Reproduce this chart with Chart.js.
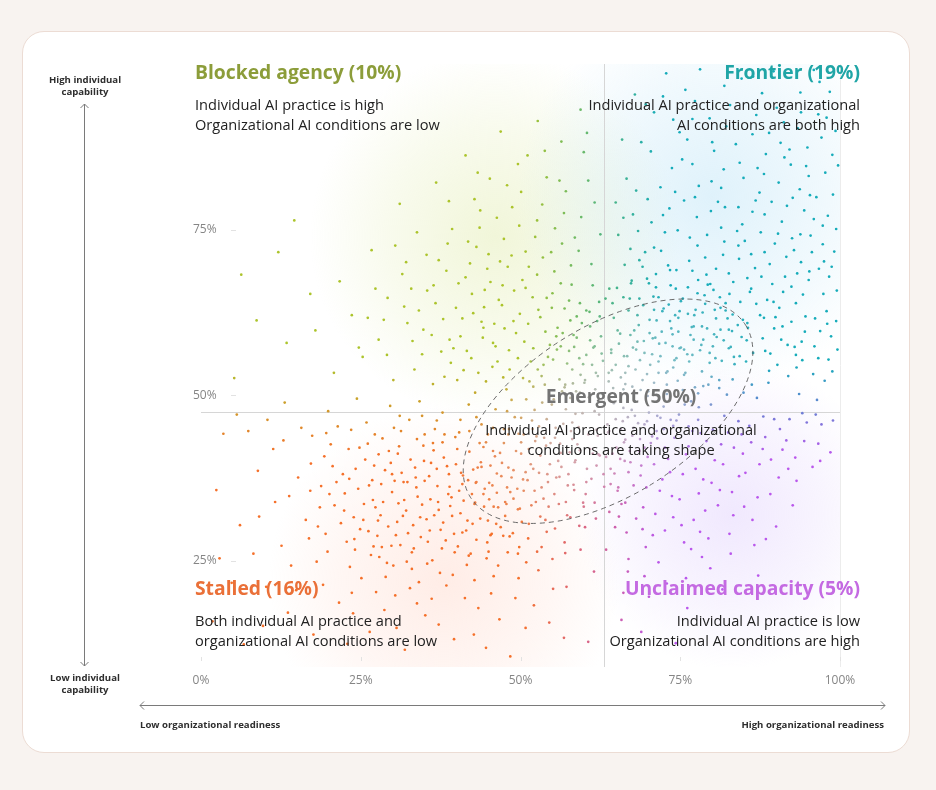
<!DOCTYPE html>
<html>
<head>
<meta charset="utf-8">
<script src="https://cdn.jsdelivr.net/npm/chart.js@4.4.1/dist/chart.umd.min.js"></script>
<style>
  body { margin: 0; background: #f8f3f0; font-family: 'Open Sans', sans-serif; }
  .card { position: absolute; left: 22px; top: 31px; width: 886px; height: 720px; background: #fff; border: 1px solid #ecdcd4; border-radius: 22px; }
  #chart { position: absolute; left: 0; top: 0; }
  .t { position: absolute; white-space: nowrap; }
  .title { font-size: 19.3px; font-weight: 700; line-height: 22px; }
  .body { font-size: 14.6px; color: #222; line-height: 20px; }
  .ax { font-size: 9.6px; font-weight: 700; color: #2e2e2e; line-height: 12px; text-align: center; }
  svg { position: absolute; left: 0; top: 0; }
</style>
</head>
<body>
<div class="card"></div>
<canvas id="chart" width="936" height="790"></canvas>
<svg width="936" height="790">
  <g stroke="#7a7a7a" stroke-width="1" fill="none">
    <line x1="84.5" y1="104" x2="84.5" y2="666"/>
    <polyline points="80.5,108 84.5,104 88.5,108"/>
    <polyline points="80.5,662 84.5,666 88.5,662"/>
    <line x1="140" y1="705.5" x2="885" y2="705.5"/>
    <polyline points="144,701.5 140,705.5 144,709.5"/>
    <polyline points="881,701.5 885,705.5 881,709.5"/>
  </g>
</svg>

<div class="t ax" style="left:35px;top:74px;width:100px;">High individual<br>capability</div>
<div class="t ax" style="left:35px;top:672px;width:100px;">Low individual<br>capability</div>
<div class="t ax" style="left:140px;top:719px;text-align:left;">Low organizational readiness</div>
<div class="t ax" style="right:52px;top:719px;text-align:right;">High organizational readiness</div>

<div class="t title" style="left:195px;top:61px;color:#8c9d3a;">Blocked agency (10%)</div>
<div class="t body" style="left:195px;top:94px;">Individual AI practice is high<br>Organizational AI conditions are low</div>

<div class="t title" style="right:76px;top:61px;color:#1fa5a6;text-align:right;">Frontier (19%)</div>
<div class="t body" style="right:76px;top:94px;text-align:right;">Individual AI practice and organizational<br>AI conditions are both high</div>

<div class="t title" style="left:471px;top:385px;width:300px;color:#747474;text-align:center;">Emergent (50%)</div>
<div class="t body" style="left:471px;top:419px;width:300px;text-align:center;">Individual AI practice and organizational<br>conditions are taking shape</div>

<div class="t title" style="left:195px;top:577px;color:#ea7038;">Stalled (16%)</div>
<div class="t body" style="left:195px;top:610px;">Both individual AI practice and<br>organizational AI conditions are low</div>

<div class="t title" style="right:76px;top:577px;color:#c46ae2;text-align:right;">Unclaimed capacity (5%)</div>
<div class="t body" style="right:76px;top:610px;text-align:right;">Individual AI practice is low<br>Organizational AI conditions are high</div>

<script>
// axis ticks (percent)
var xTicks = [0, 25, 50, 75, 100];
var yTicks = [25, 50, 75];

// segment thresholds: organizational readiness (x) and individual capability (y)
var orgThreshold = 63;
var indThreshold = 47.5;

// emergent zone: centre, radii (in % units) and tilt
var emergentZone = { x: 63.7, y: 47.6, rx: 25.4, ry: 13.3, tilt: 32 };

// respondents, [organizational readiness %, individual capability %]
var stalledPts = [[3.5,44.2],[6.1,30.4],[4.8,21.7],[8.9,38.6],[9.7,15.2],[11.3,41.9],[12.6,27.3],[13.8,34.8],[14.9,20.6],[15.7,45.1],[16.4,31.2],[17.2,39.7],[18.1,24.9],[18.8,36.3],[19.5,29.1],[20.3,42.6],[20.9,33.4],[21.6,18.7],[22.2,38.1],[22.8,27.9],[23.5,44.8],[23.9,31.6],[24.6,35.9],[25.1,22.4],[25.7,40.3],[26.2,29.5],[26.8,37.2],[27.3,33.1],[27.9,25.6],[28.4,43.5],[28.8,38.7],[29.3,30.2],[29.9,35.4],[30.4,19.8],[30.8,41.2],[31.2,27.4],[31.7,36.9],[32.1,32.6],[32.6,46.3],[33.0,23.8],[33.5,39.1],[33.9,34.7],[34.4,28.6],[34.8,42.4],[35.3,31.3],[35.7,37.8],[36.2,25.1],[36.6,44.9],[37.1,33.9],[37.5,29.7],[38.0,40.6],[38.4,21.3],[38.9,36.2],[39.3,31.8],[39.8,43.7],[40.2,27.2],[40.7,38.3],[41.1,34.1],[41.6,24.4],[42.0,41.5],[42.5,30.6],[43.0,36.8],[43.4,17.9],[43.9,45.6],[44.3,33.2],[44.8,27.8],[45.3,39.4],[45.8,22.7],[46.3,35.3],[46.9,30.1],[47.4,42.8],[48.0,26.3],[48.6,37.6],[49.2,19.4],[49.9,32.9],[50.5,44.1],[51.2,28.4],[52.0,38.9],[52.8,23.6],[53.6,34.4],[54.5,15.7],[55.4,29.9],[56.3,41.3],[57.2,21.1],[58.3,36.5],[59.4,26.7],[60.6,12.8],[61.8,31.4],[26.4,14.3],[31.9,11.6],[35.1,16.8],[39.6,13.2],[44.6,11.9],[50.8,14.9],[28.7,17.6],[22.9,12.5],[17.6,13.9],[8.2,26.1],[2.4,35.7],[5.6,47.1],[10.4,46.3],[13.1,48.9],[19.9,47.6],[24.4,49.5],[29.6,48.4],[34.2,49.1],[37.8,47.4],[41.9,48.6],[46.1,47.9],[26.9,34.2],[28.1,31.9],[29.7,39.8],[30.9,33.7],[32.4,29.2],[33.7,36.1],[34.9,40.1],[35.9,34.3],[36.9,38.9],[37.9,30.8],[38.7,35.1],[39.9,39.6],[40.9,29.3],[41.8,37.2],[42.9,33.8],[43.8,39.9],[44.9,31.1],[31.4,38.3],[27.6,28.8],[33.3,26.9],[36.4,41.7],[40.4,35.6],[42.2,26.1],[45.6,36.4],[47.8,33.6],[30.1,24.3],[24.1,26.7],[21.2,36.9],[19.3,40.8],[23.1,41.9],
  [18.6,33.1],[19.8,26.4],[20.6,39.3],[21.9,30.7],[22.5,35.2],[23.3,24.1],[24.2,38.9],[24.9,29.8],[25.5,33.6],[26.1,42.7],[26.6,25.9],[27.1,39.4],[27.7,31.1],[28.2,36.6],[28.9,22.6],[29.4,41.6],[29.8,27.3],[30.3,37.1],[30.7,30.9],[31.3,44.6],[31.8,34.2],[32.2,24.9],[32.8,40.3],[33.2,30.4],[33.6,37.6],[34.1,21.8],[34.6,33.5],[35.0,44.1],[35.5,27.9],[36.0,39.8],[36.5,31.9],[37.0,36.3],[37.4,23.2],[37.8,42.9],[38.3,28.1],[38.8,38.1],[39.2,34.6],[39.7,26.3],[40.1,41.9],[40.6,32.2],[41.0,37.9],[41.5,29.6],[42.0,44.6],[42.4,35.1],[42.8,22.1],[43.3,39.1],[43.7,31.4],[44.2,42.2],[44.7,25.4],[45.1,34.3],[45.5,29.1],[46.0,40.8],[46.5,24.3],[47.0,37.8],[47.6,31.8],[48.2,44.9],[48.8,29.2],[49.5,35.9],[50.1,41.2],[50.9,24.8],[51.7,33.4],[52.5,43.8],[53.3,27.1],[54.2,38.1],[55.1,20.8],[56.0,33.6],[57.0,26.2],[58.1,43.4],[59.2,30.3],[60.3,36.9],[61.5,23.4],[62.4,40.9],[16.9,28.4],[15.2,37.6],[14.1,24.3],[12.9,43.2],[11.6,33.9],[10.2,21.1],[7.4,44.6],[9.1,31.7],[13.6,17.2],[19.1,21.4],[23.8,17.1],[27.4,20.3],[33.8,18.6],[37.2,15.4],[41.3,19.4],[46.7,16.2],[52.1,18.3],[56.8,13.4],[30.6,14.9],[42.7,13.9],[48.4,10.6],[25.9,45.9],[31.1,46.9],[36.9,46.2],[43.1,46.7],[21.4,45.3],[17.4,43.9],[2.9,25.4],[1.8,15.9],[6.7,12.4],
  [22.4,32.6],[23.2,37.4],[24.0,28.3],[24.8,42.1],[25.4,31.2],[26.3,36.4],[27.0,27.2],[27.8,41.1],[28.5,33.9],[29.1,24.7],[29.9,38.1],[30.5,28.9],[31.0,42.3],[31.6,31.8],[32.3,36.9],[33.0,26.3],[33.8,43.4],[34.3,31.6],[35.0,37.1],[35.8,29.6],[36.3,42.8],[37.2,32.7],[37.7,26.9],[38.5,39.3],[39.0,33.3],[39.6,29.1],[40.4,44.4],[40.9,36.6],[41.7,31.1],[42.6,38.8],[43.1,28.2],[43.6,42.8],[44.4,35.9],[45.0,26.4],[45.7,41.6],[46.5,33.1],[47.3,28.8],[48.1,39.1],[48.9,34.4],[49.6,26.1],[50.4,37.3],[51.3,30.6],[52.2,35.6],[53.1,31.7],[54.0,42.4],[55.0,25.3],[56.1,37.7],[57.3,31.9],[58.6,40.2],[59.8,33.8],[27.2,44.1],[34.6,46.9],[40.6,46.3],[20.1,35.1],[18.3,30.2],[17.1,35.6],[19.6,44.3],[23.6,20.2],[32.7,20.9],[39.4,22.9],[45.4,20.1],[49.7,22.4],[36.1,19.3],[28.3,27.1],[35.4,24.6],[41.9,25.8],[38.1,44.1],[44.9,44.1],[50.1,46.6],[30.2,45.1]];

var blockedPts = [[5.2,52.6],[8.7,61.3],[13.4,57.9],[12.1,71.6],[14.6,76.4],[17.9,59.8],[20.8,53.4],[21.7,67.2],[23.6,62.1],[25.3,55.8],[26.7,71.9],[27.8,58.4],[29.2,64.7],[30.1,52.3],[31.5,68.3],[32.3,60.9],[33.8,74.6],[34.6,56.2],[35.4,65.8],[36.3,51.7],[37.2,70.4],[37.9,61.5],[38.8,79.3],[39.5,57.1],[40.3,66.9],[41.1,53.8],[41.8,73.2],[42.6,62.4],[43.3,83.6],[44.1,58.7],[44.8,69.1],[45.6,54.3],[46.3,76.8],[47.1,63.6],[47.8,50.9],[48.6,71.1],[49.3,59.4],[50.1,80.7],[50.8,66.2],[51.6,55.1],[52.3,73.9],[53.1,61.8],[53.8,86.9],[54.6,57.6],[55.3,68.7],[56.1,52.4],[56.8,77.5],[57.6,64.3],[58.3,59.1],[59.1,71.8],[59.8,54.7],[60.6,82.4],[61.3,66.6],[62.0,61.2],[46.9,89.8],[52.7,91.4],[41.4,86.2],[36.8,82.1],[31.1,78.9],[56.4,88.3],[59.4,93.1],[49.6,84.9],[43.7,77.9],[38.4,68.8],[34.1,62.8],[39.1,54.9],[44.4,65.9],[48.2,56.8],[51.9,64.8],[54.9,63.2],[57.9,69.6],[53.4,78.8],[47.4,73.6],[42.1,69.9],[45.9,60.8],[50.4,52.6],[55.7,56.9],[58.7,50.6],[60.9,58.3],[36.1,59.1],[32.9,66.1],[28.6,61.4],[24.7,57.2],[33.4,53.9],[17.1,65.3],[6.3,68.2],
  [38.1,52.8],[39.9,63.2],[40.6,58.9],[41.4,67.8],[42.3,55.6],[43.1,72.4],[43.9,61.1],[44.6,52.1],[45.3,67.1],[46.1,57.4],[46.8,70.2],[47.5,60.1],[48.3,53.9],[49.0,65.8],[49.8,75.6],[50.6,58.1],[51.3,69.4],[52.0,51.3],[52.8,62.9],[53.5,70.8],[54.3,55.8],[55.0,65.4],[55.8,60.2],[56.5,72.9],[57.3,54.8],[58.0,66.7],[58.8,61.9],[59.5,76.9],[60.3,56.1],[61.1,69.8],[61.8,53.4],[62.5,74.3],[35.3,71.2],[36.7,63.9],[33.1,58.2],[31.8,63.4],[30.4,72.6],[29.1,56.1],[27.3,66.1],[26.1,61.7],[39.3,75.1],[42.8,79.6],[45.2,82.7],[48.7,78.4],[51.1,86.2],[54.1,82.9],[57.1,80.8],[59.9,86.7],[61.6,79.1],[37.6,56.6],[44.3,63.3],[49.9,62.3],[53.9,59.6],[56.9,63.1],[47.2,66.6],[42.9,50.4],[50.8,71.7],[55.4,75.2],[58.4,57.3],[46.4,55.1],
  [38.9,58.4],[40.1,52.3],[40.9,61.6],[41.6,56.7],[42.4,65.3],[43.4,53.4],[44.2,60.2],[45.0,71.3],[45.7,57.9],[46.6,64.4],[47.3,52.7],[48.0,69.4],[48.9,61.2],[49.6,55.6],[50.3,67.4],[51.2,60.8],[52.0,57.1],[52.6,68.2],[53.3,52.9],[54.1,64.7],[54.8,71.6],[55.6,58.9],[56.3,66.9],[57.0,51.6],[57.8,61.3],[58.5,73.8],[59.3,63.9],[60.0,51.9],[60.8,62.6],[61.6,57.4],[62.3,64.1],[36.4,66.6],[34.8,59.9],[32.1,70.1],[38.6,72.9],[43.6,75.3],[47.9,81.7],[52.6,76.4],[56.1,82.4],[60.4,89.6]];

var frontierPts = [[63.8,52.1],[64.6,61.7],[65.3,74.2],[65.9,88.6],[66.7,55.9],[67.4,67.3],[68.1,80.9],[68.8,50.8],[69.5,71.6],[70.2,59.4],[70.9,92.7],[71.6,64.8],[72.3,77.2],[73.0,53.6],[73.7,84.3],[74.4,68.9],[75.1,57.2],[75.8,96.1],[76.5,73.8],[77.2,62.1],[77.9,81.6],[78.6,51.4],[79.3,66.7],[80.0,88.2],[80.7,58.8],[81.4,75.3],[82.1,63.9],[82.8,93.8],[83.5,54.7],[84.2,70.6],[84.9,82.8],[85.6,60.2],[86.3,77.7],[87.0,49.6],[87.7,67.9],[88.4,86.4],[89.1,56.3],[89.8,72.9],[90.5,63.2],[91.2,91.2],[91.9,52.9],[92.6,79.8],[93.3,68.4],[94.0,58.1],[94.7,84.6],[95.4,74.1],[96.1,61.6],[96.8,97.3],[97.5,70.2],[98.2,55.4],[98.9,80.3],[99.5,65.8],[67.9,95.4],[72.8,98.6],[78.1,99.2],[84.6,97.8],[89.6,98.9],[93.8,95.7],[74.9,89.7],[86.9,92.3],[81.8,84.1],[70.4,86.8],[92.1,87.1],[97.1,88.9],[76.2,66.3],[78.9,70.8],[80.4,62.9],[82.6,68.4],[84.4,64.1],[86.1,71.3],[88.1,61.7],[89.4,66.8],[91.6,70.9],[93.1,63.9],[95.1,67.4],[97.9,62.7],[79.6,56.4],[83.1,59.7],[85.3,55.1],[87.9,58.6],[90.2,54.6],[92.9,57.3],[95.8,53.2],[98.6,58.9],[81.1,52.3],[84.9,50.4],[88.8,51.9],[93.6,50.2],[96.4,49.3],[77.6,76.9],[80.9,79.2],[83.9,74.8],[87.4,80.6],[90.9,76.2],[94.4,77.9],[97.3,75.6],[99.1,71.7],[75.6,79.4],[73.4,61.2],[71.2,68.3],[69.2,63.6],[68.4,74.8],[66.3,69.7],
  [64.2,56.4],[65.1,66.2],[66.1,50.9],[66.9,62.8],[67.6,77.3],[68.3,58.1],[69.1,69.4],[69.8,53.2],[70.5,76.1],[71.3,61.3],[72.0,71.8],[72.7,57.9],[73.5,66.6],[74.2,80.7],[74.9,62.7],[75.6,53.1],[76.4,70.3],[77.1,58.4],[77.8,67.4],[78.5,62.5],[79.2,74.2],[79.9,52.8],[80.6,69.1],[81.3,59.9],[82.0,78.4],[82.7,65.3],[83.4,55.8],[84.1,72.6],[84.8,61.4],[85.5,67.7],[86.2,51.6],[86.9,63.8],[87.6,74.6],[88.3,56.7],[89.0,69.8],[89.7,60.1],[90.4,82.1],[91.1,65.6],[91.8,57.6],[92.5,73.7],[93.2,54.2],[93.9,70.1],[94.6,61.9],[95.3,80.2],[96.0,57.4],[96.7,69.1],[97.4,65.3],[98.1,77.1],[98.8,53.6],[99.4,61.2],[99.7,84.7],[75.3,85.6],[79.6,91.8],[83.7,87.9],[87.1,84.3],[90.1,93.4],[93.4,90.3],[96.6,92.4],[98.4,95.8],[71.9,81.4],[68.9,88.2],[66.6,82.7],[77.3,94.4],[81.9,96.7],[86.4,98.1],[95.9,99.1],[64.9,79.1],[69.6,93.9],[73.9,91.6],[88.9,89.6],[92.3,84.8],[94.9,87.4],[97.7,83.6],[99.3,89.9],[85.9,65.6],[81.7,71.2],[78.3,57.6],[76.8,60.3],[90.8,58.4],[92.4,61.1],[94.2,65.2],[96.9,59.7],[88.6,64.4],[83.2,62.2],[80.2,65.9],[86.7,69.2],[91.4,67.9],[95.6,71.6],[98.3,67.9],[84.1,78.4],[88.2,77.3],[93.7,81.1],[79.9,82.3],[76.9,84.9],[72.6,74.6],[70.8,64.9],[67.2,72.1],[65.6,59.3],[74.1,55.3],[82.3,50.1],
  [66.4,53.4],[67.1,64.6],[67.8,59.8],[68.6,70.4],[69.4,56.4],[70.1,66.9],[70.9,72.3],[71.6,55.1],[72.4,63.1],[73.1,69.6],[73.8,59.2],[74.6,74.9],[75.4,64.6],[76.1,56.2],[76.9,68.8],[77.7,72.6],[78.4,60.4],[79.1,68.2],[79.8,77.8],[80.5,55.6],[81.2,64.8],[81.9,73.2],[82.6,57.1],[83.3,67.1],[84.0,60.6],[84.7,75.8],[85.4,58.3],[86.1,66.1],[86.8,79.4],[87.5,62.1],[88.2,71.6],[88.9,53.7],[89.6,64.1],[90.3,74.4],[91.0,60.4],[91.7,78.6],[92.4,66.4],[93.1,56.1],[93.8,74.3],[94.5,59.6],[95.2,68.7],[95.9,76.6],[96.6,55.6],[97.3,72.8],[98.0,60.8],[98.7,69.4],[99.4,75.1],[99.6,56.9],[71.1,58.7],[74.7,61.7],[78.8,65.1],[82.4,61.6],[86.4,56.4],[89.9,61.8],[94.1,55.3],[97.6,52.2],[85.1,73.3],[89.3,79.2],[92.8,71.9],[96.3,79.9],[81.4,81.3],[77.3,79.9],[73.3,78.2],[69.9,79.6],[66.1,76.8],[88.1,83.4],[91.3,85.9],[95.1,83.1],[98.8,86.3],[84.3,85.1],[80.3,86.9],[76.1,88.6],[86.3,89.4],[90.7,88.1],[93.9,92.7],[97.9,91.9],[72.3,95.1],[76.9,91.7],[82.2,90.6],[87.8,95.6]];

var unclaimedPts = [[63.9,44.6],[64.7,38.2],[65.4,31.7],[66.2,42.9],[66.9,25.3],[67.7,36.4],[68.4,45.8],[69.2,33.1],[69.9,40.7],[70.7,28.9],[71.4,43.5],[72.2,37.3],[72.9,21.6],[73.7,34.8],[74.4,46.2],[75.2,30.4],[75.9,41.1],[76.7,26.8],[77.4,38.9],[78.2,44.3],[78.9,32.6],[79.7,23.9],[80.4,40.2],[81.2,35.7],[81.9,46.9],[82.7,29.1],[83.4,42.1],[84.2,37.8],[85.0,33.2],[85.8,45.4],[86.6,27.4],[87.4,39.6],[88.3,43.7],[89.1,35.1],[90.0,30.2],[91.0,41.8],[92.1,46.4],[93.2,37.1],[94.4,43.1],[95.7,39.2],[97.1,45.6],[98.5,41.4],[70.1,19.6],[76.1,17.9],[81.6,20.7],[87.2,22.8],[66.1,20.2],[68.9,14.3],[74.3,12.6],[63.4,26.7],[65.8,16.1],[71.8,35.6],[77.9,35.2],[67.2,39.9],[73.1,40.4],[79.1,43.1],[84.8,41.2],[90.6,44.9],[96.2,47.1],
  [64.4,41.2],[65.2,35.6],[66.0,46.1],[66.6,29.3],[67.5,43.9],[68.1,31.4],[68.8,37.9],[69.6,27.1],[70.4,42.8],[71.1,32.1],[71.9,46.6],[72.6,29.6],[73.4,38.4],[74.1,43.6],[74.9,34.3],[75.6,27.8],[76.3,42.3],[77.1,31.2],[77.8,46.3],[78.6,37.3],[79.4,28.4],[80.1,44.8],[80.9,33.4],[81.7,39.6],[82.5,44.4],[83.3,31.9],[84.1,46.1],[85.2,38.3],[86.1,42.9],[87.1,34.6],[88.0,46.8],[89.2,40.3],[90.4,37.6],[91.6,43.2],[93.0,40.6],[94.8,45.9],[96.6,42.7],[98.9,46.2],[69.4,22.7],[78.4,25.6],
  [64.1,36.6],[65.6,40.4],[66.4,33.8],[67.9,46.9],[68.6,41.6],[69.7,36.1],[70.9,39.6],[72.4,44.9],[73.9,31.6],[75.4,38.1],[76.9,44.6],[78.1,29.4],[79.9,36.8],[81.4,42.6],[83.1,35.4],[84.6,44.1],[86.3,31.2],[87.9,41.9],[89.7,46.4],[91.9,38.9],[94.1,47.3],[96.9,40.1],[66.8,23.4],[71.6,24.8],[75.9,22.4],[82.9,26.1],[88.4,28.3],[92.6,33.4],[64.8,30.1],[69.1,29.8]];

var emergentPts = [[45.1,36.8],[46.8,41.3],[47.6,33.9],[48.9,38.7],[49.7,44.2],[50.5,35.6],[51.3,41.9],[52.2,47.8],[52.9,38.3],[53.7,43.6],[54.4,33.2],[55.2,49.4],[55.9,40.1],[56.7,45.7],[57.4,36.4],[58.2,51.8],[58.9,42.6],[59.7,47.3],[60.4,38.9],[61.2,54.6],[61.9,44.8],[62.7,50.2],[63.4,40.7],[64.2,56.9],[64.9,46.4],[65.7,52.7],[66.4,43.3],[67.2,59.1],[67.9,49.1],[68.7,55.3],[69.4,45.6],[70.2,61.4],[70.9,51.9],[71.7,57.8],[72.4,48.3],[73.2,63.7],[73.9,54.2],[74.7,59.6],[75.4,50.8],[76.2,62.3],[76.9,56.1],[77.7,65.4],[78.4,53.6],[79.2,60.1],[80.1,57.4],[81.3,63.2],[82.6,59.9],[50.2,30.9],[54.1,29.4],[57.8,31.6],[61.6,33.8],[65.3,36.1],[68.9,39.4],[72.6,42.1],[76.3,45.3],[79.8,48.6],[83.2,52.4],[44.6,42.9],[47.9,47.6],[51.4,52.1],[55.1,55.4],[58.8,58.7],[62.4,61.9],[66.1,64.8],[69.8,67.6],[73.4,68.9],[53.3,36.1],[56.4,39.2],[59.3,41.7],[62.1,43.9],[64.6,48.8],[67.5,51.3],[70.3,54.6],[73.8,57.4],[60.7,49.7],[63.8,53.4],[57.1,47.9],[54.7,42.8],[66.8,46.7],[69.9,49.9],[71.3,44.6],[74.8,47.1],[77.3,51.2],[61.4,57.2],[58.1,53.9],[65.2,59.8],[68.3,62.1],[48.3,28.7],[52.6,26.4],[56.9,27.8],[60.1,30.1],[63.9,32.4],[46.2,30.6],[43.9,39.2],[50.9,49.4],[53.8,51.6],[57.6,56.7],[60.9,60.4],[64.4,63.9],
  [46.3,38.2],[47.9,36.1],[49.3,41.6],[50.8,38.4],[51.9,44.9],[53.1,40.9],[54.1,46.4],[55.6,37.6],[56.2,42.7],[57.8,49.6],[58.5,39.9],[59.1,45.2],[60.1,52.3],[61.3,41.2],[62.3,47.1],[62.9,55.2],[63.7,44.4],[64.5,51.1],[65.4,57.8],[66.1,48.1],[66.9,54.4],[67.7,45.1],[68.5,60.6],[69.1,52.3],[70.1,47.4],[70.7,58.6],[71.6,53.4],[72.2,62.7],[72.9,50.2],[73.6,60.1],[74.4,55.6],[75.1,64.2],[75.8,53.4],[76.6,59.1],[77.4,62.9],[78.1,56.8],[78.9,63.8],[79.6,54.9],[80.6,61.6],[81.8,58.3],[49.6,32.8],[52.4,33.9],[55.3,35.1],[58.4,35.7],[61.1,37.4],[64.1,38.9],[67.1,41.6],[70.6,43.8],[73.9,45.4],[77.9,48.2],[81.1,51.1],[84.3,55.9],[45.7,45.1],[48.6,49.3],[52.7,53.9],[56.3,57.4],[59.6,60.9],[63.3,64.6],[67.3,66.9],[71.2,66.3],[53.9,31.2],[59.9,33.2],[65.8,33.6],[56.9,51.2],[59.2,55.6],[62.6,58.9],[48.1,44.1],[51.8,46.2],[54.9,48.6],[57.9,44.6],[61.7,50.9],[64.9,54.6],[68.1,56.9],[71.9,55.9],[74.6,52.2],[76.7,49.1],[69.4,42.1],[66.3,40.1],[63.1,36.2],[60.6,44.1],
  [44.2,35.1],[45.8,33.2],[47.1,39.8],[48.4,35.4],[49.1,46.7],[50.1,42.9],[51.1,37.2],[52.3,43.1],[53.4,48.9],[54.6,39.6],[55.5,45.1],[56.5,50.6],[57.1,33.9],[57.7,41.4],[58.6,47.2],[59.4,53.1],[60.2,35.1],[60.9,41.9],[61.6,47.6],[62.1,52.9],[63.0,38.1],[63.6,45.6],[64.3,53.8],[65.0,42.1],[65.6,49.2],[66.2,55.9],[66.9,38.4],[67.4,47.8],[68.0,53.9],[68.7,43.4],[69.3,58.2],[70.0,50.6],[70.6,56.2],[71.4,46.9],[72.1,59.6],[72.8,53.4],[73.5,46.3],[74.2,62.1],[74.9,57.1],[75.7,48.6],[76.4,55.1],[77.1,60.4],[77.8,50.3],[78.6,58.4],[79.4,51.6],[80.3,59.2],[81.5,55.2],[82.9,57.3],[84.6,58.8],[85.5,60.9],[43.1,36.9],[42.8,33.6],[45.3,28.9],[49.8,27.1],[47.4,44.9],[53.6,54.6],[56.6,59.4],[60.3,62.8],[63.9,66.1],[68.6,64.6],[74.3,66.1],[79.7,66.8],[82.1,62.8],[58.1,45.9],[61.9,39.4],[55.4,43.6],[52.9,45.3],[65.7,44.9],[69.8,46.1],[72.9,51.6],[75.6,56.9],[67.6,57.2],[62.7,56.3],[59.3,50.4],[70.9,62.9],[51.6,39.6],[54.3,36.9],[57.5,38.1],[62.2,41.1],[66.4,51.7]];

// colour field: corners of the map, lightened inside the emergent zone
var cLowLow = [245, 112, 42];
var cLowHigh = [172, 196, 44];
var cHighHigh = [22, 172, 186];
var cHighLow = [186, 88, 236];
var cMid = [206, 202, 206];

function mix(a, b, t) {
  return [a[0] + (b[0] - a[0]) * t, a[1] + (b[1] - a[1]) * t, a[2] + (b[2] - a[2]) * t];
}
function clamp01(v) { return Math.max(0, Math.min(1, v)); }

function colourAt(x, y) {
  var tx = clamp01((x - 50) / 22);
  var ty = clamp01((y - 41) / 14);
  var c = mix(mix(cLowLow, cHighLow, tx), mix(cLowHigh, cHighHigh, tx), ty);
  var a = emergentZone.tilt * Math.PI / 180;
  var dx = x - emergentZone.x, dy = y - emergentZone.y;
  var u = dx * Math.cos(a) + dy * Math.sin(a);
  var v = -dx * Math.sin(a) + dy * Math.cos(a);
  var d = Math.sqrt(Math.pow(u / emergentZone.rx, 2) + Math.pow(v / emergentZone.ry, 2));
  var k = clamp01((1.1 - d) * 1.3) * 0.68;
  c = mix(c, cMid, k);
  return 'rgb(' + Math.round(c[0]) + ',' + Math.round(c[1]) + ',' + Math.round(c[2]) + ')';
}

function toPoints(arr) {
  return arr.map(function (p) { return { x: p[0], y: p[1] }; });
}

function makeSet(label, arr) {
  return {
    label: label,
    data: toPoints(arr),
    pointRadius: 1.35,
    pointBorderWidth: 0,
    pointHoverRadius: 1.35,
    backgroundColor: function (c) { return c.raw ? colourAt(c.raw.x, c.raw.y) : '#999'; }
  };
}

var glows = [
  { x: 46, y: 74, r: 185, color: '220,232,160', a: 0.4 },
  { x: 80, y: 80, r: 195, color: '175,222,245', a: 0.4 },
  { x: 38, y: 22, r: 175, color: '255,214,200', a: 0.45 },
  { x: 83, y: 32, r: 155, color: '218,198,252', a: 0.4 }
];

var mapDecor = {
  id: 'mapDecor',
  beforeDatasetsDraw: function (chart) {
    var ctx = chart.ctx, area = chart.chartArea;
    var xs = chart.scales.x, ys = chart.scales.y;
    ctx.save();
    ctx.beginPath();
    ctx.rect(area.left, area.top, area.right - area.left, area.bottom - area.top);
    ctx.clip();
    glows.forEach(function (g) {
      var px = xs.getPixelForValue(g.x), py = ys.getPixelForValue(g.y);
      var grad = ctx.createRadialGradient(px, py, 0, px, py, g.r);
      grad.addColorStop(0, 'rgba(' + g.color + ',' + g.a + ')');
      grad.addColorStop(0.6, 'rgba(' + g.color + ',' + (g.a * 0.45) + ')');
      grad.addColorStop(1, 'rgba(' + g.color + ',0)');
      ctx.fillStyle = grad;
      ctx.fillRect(px - g.r, py - g.r, g.r * 2, g.r * 2);
    });
    ctx.restore();

    // quadrant dividers and right edge
    ctx.save();
    ctx.lineWidth = 1;
    ctx.strokeStyle = '#d6d6d6';
    var vx = Math.round(xs.getPixelForValue(orgThreshold)) + 0.5;
    var hy = Math.round(ys.getPixelForValue(indThreshold)) + 0.5;
    ctx.beginPath();
    ctx.moveTo(vx, area.top); ctx.lineTo(vx, area.bottom);
    ctx.moveTo(area.left, hy); ctx.lineTo(area.right, hy);
    ctx.stroke();
    ctx.strokeStyle = '#ececec';
    var ex = Math.round(xs.getPixelForValue(100)) + 0.5;
    ctx.beginPath();
    ctx.moveTo(ex, area.top); ctx.lineTo(ex, area.bottom);
    ctx.stroke();
    // small tick marks
    ctx.strokeStyle = '#e2e2e2';
    ctx.beginPath();
    xTicks.forEach(function (t) {
      var px = Math.round(xs.getPixelForValue(t)) + 0.5;
      ctx.moveTo(px, area.bottom - 10); ctx.lineTo(px, area.bottom - 6);
    });
    yTicks.forEach(function (t) {
      var py = Math.round(ys.getPixelForValue(t)) + 0.5;
      ctx.moveTo(area.left + 30, py); ctx.lineTo(area.left + 35, py);
    });
    ctx.stroke();
    ctx.restore();
  },
  afterDatasetsDraw: function (chart) {
    var ctx = chart.ctx;
    var xs = chart.scales.x, ys = chart.scales.y;
    var unit = Math.abs(xs.getPixelForValue(1) - xs.getPixelForValue(0));
    ctx.save();
    ctx.strokeStyle = '#5a5a5a';
    ctx.lineWidth = 0.9;
    ctx.setLineDash([5, 4]);
    ctx.beginPath();
    ctx.ellipse(xs.getPixelForValue(emergentZone.x), ys.getPixelForValue(emergentZone.y),
      emergentZone.rx * unit, emergentZone.ry * unit, -emergentZone.tilt * Math.PI / 180, 0, Math.PI * 2);
    ctx.stroke();
    ctx.restore();
  }
};

var tickFont = { family: 'Open Sans', size: 12 };

var chart = new Chart(document.getElementById('chart').getContext('2d'), {
  type: 'scatter',
  data: {
    datasets: [
      makeSet('Stalled', stalledPts),
      makeSet('Blocked agency', blockedPts),
      makeSet('Frontier', frontierPts),
      makeSet('Unclaimed capacity', unclaimedPts),
      makeSet('Emergent', emergentPts)
    ]
  },
  options: {
    responsive: false,
    animation: false,
    layout: { padding: { left: 201, right: 96, top: 64, bottom: 0 } },
    plugins: { legend: { display: false }, tooltip: { enabled: false } },
    scales: {
      x: {
        type: 'linear', min: 0, max: 100,
        grid: { display: false, drawTicks: false },
        border: { display: false },
        afterBuildTicks: function (s) { s.ticks = xTicks.map(function (v) { return { value: v }; }); },
        afterFit: function (s) { s.height = 123; },
        ticks: { padding: 6, color: '#858585', font: tickFont, callback: function (v) { return v + '%'; } }
      },
      y: {
        type: 'linear', min: 9, max: 100,
        grid: { display: false, drawTicks: false },
        border: { display: false },
        afterBuildTicks: function (s) { s.ticks = yTicks.map(function (v) { return { value: v }; }); },
        afterFit: function (s) { s.width = 0; },
        ticks: { mirror: true, padding: -8, color: '#858585', font: tickFont, callback: function (v) { return v + '%'; } }
      }
    }
  },
  plugins: [mapDecor]
});
</script>
</body>
</html>
